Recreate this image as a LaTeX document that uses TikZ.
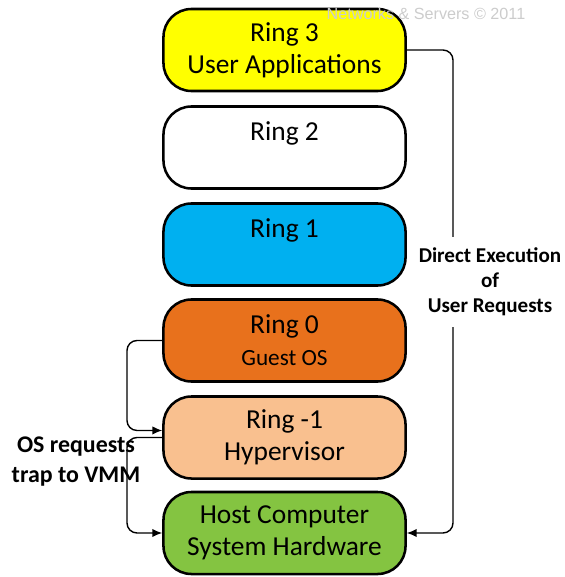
\documentclass[tikz,border=0pt]{standalone}
\usepackage{fontspec}
\setmainfont{Carlito}
\newfontfamily\wmfont{Liberation Sans}
\usetikzlibrary{arrows.meta}
\definecolor{ringyellow}{HTML}{FFFF00}
\definecolor{ringblue}{HTML}{00B0F0}
\definecolor{ringorange}{HTML}{E8711C}
\definecolor{ringpeach}{HTML}{F9C08F}
\definecolor{hostgreen}{HTML}{84C441}
\tikzset{
  ring/.style={draw, line width=1.8pt, rounded corners=0.7cm, minimum width=6.05cm,
    minimum height=2.05cm, align=center, font=\fontsize{19.5}{22.7}\selectfont},
  flow/.style={line width=1pt, rounded corners=0.25cm, -{Latex[length=7pt,width=6pt]}},
  note/.style={align=center, font=\bfseries\fontsize{15}{17.8}\selectfont}
}
\begin{document}
\begin{tikzpicture}[x=0.025cm, y=-0.025cm]
\useasboundingbox (0,0) rectangle (564,577);
\node[ring, fill=ringyellow] (r3) at (284.5,50){Ring 3\\User Applications};
\node[ring, fill=white] (r2) at (284.5,147.5){Ring 2\\\mbox{}};
\node[ring, fill=ringblue] (r1) at (284.5,244.5){Ring 1\\\mbox{}};
\node[ring, fill=ringorange] (r0) at (284.5,340.5){Ring 0\\{\fontsize{16.5}{17}\selectfont Guest OS}};
\node[ring, fill=ringpeach] (hv) at (284.5,437.5){Ring -1\\Hypervisor};
\node[ring, fill=hostgreen] (host) at (284.5,533){Host Computer\\System Hardware};
\node[text=gray!40, font=\wmfont\fontsize{11.5}{13}\selectfont] (wm) at (426,14){Networks \& Servers \textcopyright{} 2011};
\coordinate (rline) at (453,0);
\coordinate (lline) at (127,0);
\draw[flow] (r3.east) -- (r3.east -| rline) -- (host.east -| rline) -- (host.east);
\node[note, fill=white, inner ysep=8pt] (direct) at (490,282){Direct Execution\\of\\User Requests};
\draw[flow] (r0.west) -- (r0.west -| lline) -- ([yshift=5pt]hv.west -| lline) -- ([yshift=5pt]hv.west);
\draw[flow] (hv.west) -- (hv.west -| lline) -- (host.west -| lline) -- (host.west);
\node[note, font=\bfseries\fontsize{17}{21.3}\selectfont] (trap) at (76,462){OS requests\\trap to VMM};
\end{tikzpicture}
\end{document}
